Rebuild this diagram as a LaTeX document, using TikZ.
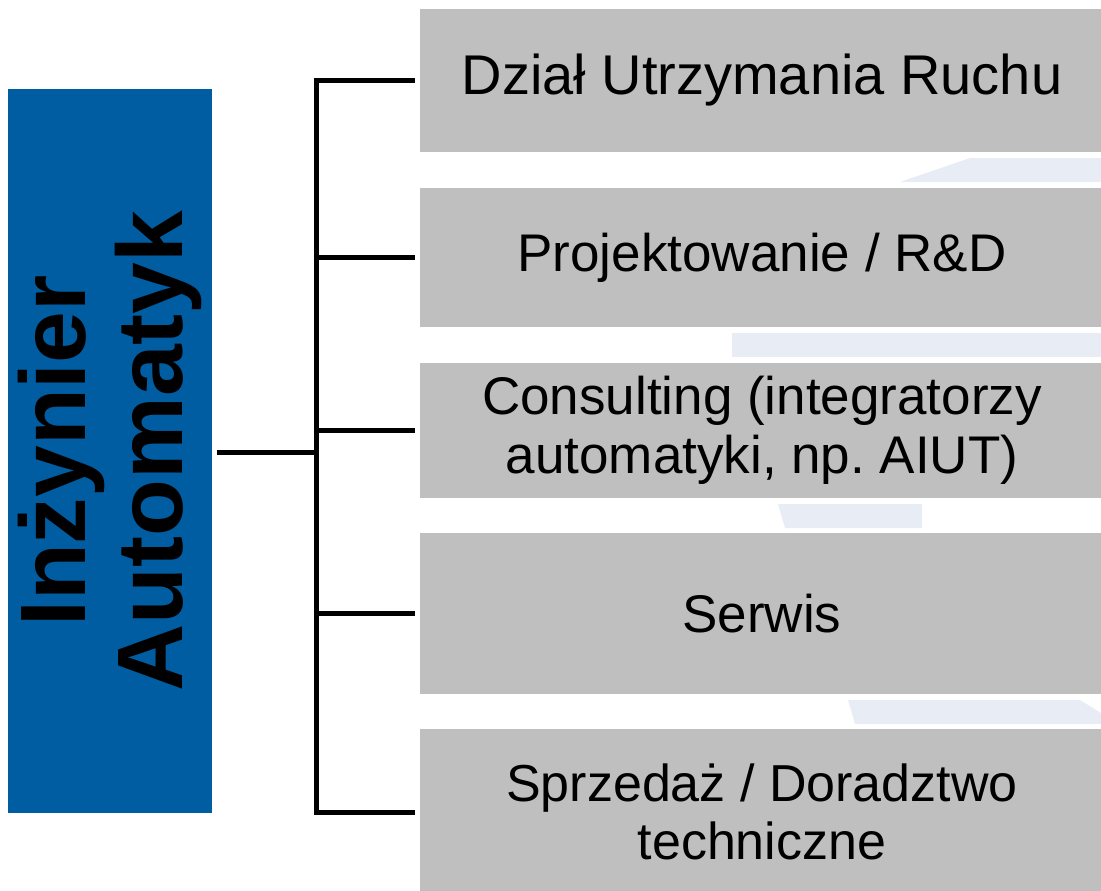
\documentclass[tikz,border=0pt]{standalone}
\usepackage{fontspec}
\setmainfont{Liberation Sans}
\frenchspacing
\definecolor{barblue}{RGB}{0, 93, 162}
\definecolor{boxgray}{RGB}{191, 191, 191}
\definecolor{shadeblue}{RGB}{232, 236, 245}
\usetikzlibrary{positioning, calc}

\begin{document}
\begin{tikzpicture}[x=1pt, y=-1pt,
    catbox/.style={fill=boxgray, minimum width=684pt, inner sep=0pt, align=center,
      font=\fontsize{53}{59}\selectfont},
    conn/.style={line width=5pt, black}]
  \useasboundingbox (0, 0) rectangle (1101, 891);

  % Faint background arrows between the boxes
  \fill[shadeblue] (900, 182) -- (970, 158) -- (1101, 158) -- (1101, 182) -- cycle;
  \fill[shadeblue] (732, 333) rectangle (1101, 357);
  \fill[shadeblue] (778, 504) -- (922, 504) -- (922, 528) -- (785, 528) -- cycle;
  \fill[shadeblue] (848, 700) -- (1080, 700) -- (1101, 713) -- (1101, 724) -- (855, 724) -- cycle;

  % Title bar
  \node[fill=barblue, minimum width=204pt, minimum height=724pt, inner sep=0pt] (eng) at (110, 451) {};
  \node[rotate=90, align=center, font=\fontsize{93}{97}\selectfont\bfseries] (engtxt) at (eng.center) {Inżynier\\Automatyk};

  % Career paths
  \node[catbox, minimum height=143pt, font=\fontsize{56}{62}\selectfont] (dur) at (762, 80.5) {Dział Utrzymania Ruchu};
  \node[catbox, minimum height=139pt] (proj) at (762, 257.5) {Projektowanie / R\&D};
  \node[catbox, minimum height=135pt] (cons) at (762, 430.5) {Consulting (integratorzy\\automatyki, np. AIUT)};
  \node[catbox, minimum height=161pt] (serw) at (762, 613.5) {Serwis};
  \node[catbox, minimum height=166pt, font=\fontsize{52}{58}\selectfont] (sprz) at (762, 812) {Sprzedaż / Doradztwo\\techniczne};

  % Tree connectors
  \coordinate (hub) at (316, 452);
  \draw[conn, shorten <=5pt] (eng.east |- hub) -- (hub);
  \draw[conn, shorten <=5pt, shorten >=5pt] (dur.west) -- (hub |- dur.west) -- (hub |- sprz.west) -- (sprz.west);
  \draw[conn, shorten >=5pt] (hub |- proj.west) -- (proj.west);
  \draw[conn, shorten >=5pt] (hub |- cons.west) -- (cons.west);
  \draw[conn, shorten >=5pt] (hub |- serw.west) -- (serw.west);
\end{tikzpicture}
\end{document}
